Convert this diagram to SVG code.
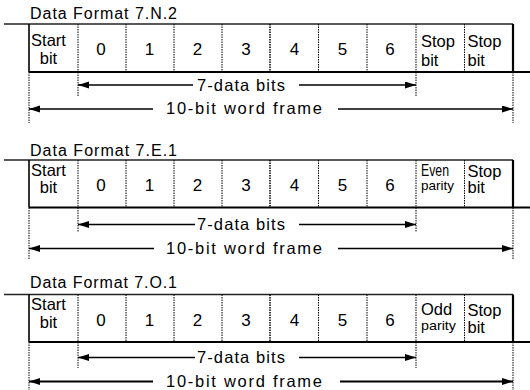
<svg xmlns="http://www.w3.org/2000/svg" width="530" height="390" viewBox="0 0 530 390">
<defs>
<marker id="ah" markerUnits="userSpaceOnUse" markerWidth="12" markerHeight="8" refX="11" refY="3.5" orient="auto">
<path d="M0,0 L11,3.5 L0,7 z" fill="#000"/>
</marker>
</defs>
<style>
text{font-family:"Liberation Sans",Arial,sans-serif;fill:#000}
.title{font-size:16px}
.cell{font-size:16.5px}
.dig{font-size:17px;text-anchor:middle}
.mid{text-anchor:middle}
.small{font-size:13px}
.lbl{font-size:16.5px}
.top{stroke:#222;stroke-width:1.5;fill:none}
.bot{stroke:#000;stroke-width:2.2;fill:none}
.side{stroke:#000;stroke-width:1.6;fill:none}
.rside{stroke:#000;stroke-width:2.2;fill:none}
.dot{stroke:#000;stroke-width:1;stroke-dasharray:1.5 1;fill:none}
.arr{stroke:#000;stroke-width:1.3;fill:none;marker-end:url(#ah)}
.arr2{stroke:#000;stroke-width:2;fill:none;marker-end:url(#ah)}
</style>

<!-- Section 1 -->
<g id="format-7N2">
<text class="title" x="30" y="19" textLength="147" lengthAdjust="spacing">Data Format 7.N.2</text>
<path class="top" d="M4,24 H513"/>
<path class="bot" d="M29,72 H530"/>
<path class="side" d="M29,24 V72"/>
<path class="rside" d="M513,24 V72"/>
<g class="dividers">
<path class="dot" d="M78,24V72M126,24V72M174,24V72M222,24V72M318.5,24V72M367,24V72M416,24V72M464.5,24V72"/>
<path class="dot" style="stroke-width:1.5" d="M270,24V72"/>
<path class="dot" d="M29,72V123M78,72V97M416,72V97M513,72V123"/>
</g>
<g id="n1-start"><text class="cell mid" x="48.5" y="46">Start</text><text class="cell mid" x="48.5" y="63.5">bit</text></g>
<g id="n1-b0"><text class="dig" x="101" y="55">0</text></g>
<g id="n1-b1"><text class="dig" x="149.5" y="55">1</text></g>
<g id="n1-b2"><text class="dig" x="197.5" y="55">2</text></g>
<g id="n1-b3"><text class="dig" x="246" y="55">3</text></g>
<g id="n1-b4"><text class="dig" x="294.5" y="55">4</text></g>
<g id="n1-b5"><text class="dig" x="342.5" y="55">5</text></g>
<g id="n1-b6"><text class="dig" x="390" y="55">6</text></g>
<g id="n1-stop1"><text class="cell" x="421" y="47">Stop</text><text class="cell" x="421" y="65.5">bit</text></g>
<g id="n1-stop2"><text class="cell" x="467.5" y="47">Stop</text><text class="cell" x="467.5" y="65.5">bit</text></g>
<text class="lbl" x="197" y="90.5" textLength="88" lengthAdjust="spacing">7-data bits</text>
<text class="lbl" x="166" y="114" textLength="156" lengthAdjust="spacing">10-bit word frame</text>
</g>

<!-- Section 2 -->
<g id="format-7E1">
<text class="title" x="30" y="155.5" textLength="147" lengthAdjust="spacing">Data Format 7.E.1</text>
<path class="top" d="M4,160 H513"/>
<path class="bot" d="M29,207.5 H530"/>
<path class="side" d="M29,160 V207.5"/>
<path class="rside" d="M513,160 V207.5"/>
<g class="dividers">
<path class="dot" d="M78,160V207.5M126,160V207.5M174,160V207.5M222,160V207.5M318.5,160V207.5M367,160V207.5M416,160V207.5M464.5,160V207.5"/>
<path class="dot" style="stroke-width:1.5" d="M270,160V207.5"/>
<path class="dot" d="M29,207.5V259M78,207.5V232M416,207.5V232M513,207.5V259"/>
</g>
<g id="n2-start"><text class="cell mid" x="48.5" y="175.5">Start</text><text class="cell mid" x="48.5" y="193">bit</text></g>
<g id="n2-b0"><text class="dig" x="101" y="191">0</text></g>
<g id="n2-b1"><text class="dig" x="149.5" y="191">1</text></g>
<g id="n2-b2"><text class="dig" x="197.5" y="191">2</text></g>
<g id="n2-b3"><text class="dig" x="246" y="191">3</text></g>
<g id="n2-b4"><text class="dig" x="294.5" y="191">4</text></g>
<g id="n2-b5"><text class="dig" x="342.5" y="191">5</text></g>
<g id="n2-b6"><text class="dig" x="390" y="191">6</text></g>
<g id="n2-parity"><text class="cell" x="421" y="176" textLength="28" lengthAdjust="spacingAndGlyphs">Even</text><text class="small" x="421" y="190" textLength="33" lengthAdjust="spacingAndGlyphs">parity</text></g>
<g id="n2-stop"><text class="cell" x="467.5" y="176.5">Stop</text><text class="cell" x="467.5" y="193">bit</text></g>
<text class="lbl" x="197" y="230" textLength="88" lengthAdjust="spacing">7-data bits</text>
<text class="lbl" x="166" y="253.5" textLength="156" lengthAdjust="spacing">10-bit word frame</text>
</g>

<!-- Section 3 -->
<g id="format-7O1">
<text class="title" x="30" y="288" textLength="147" lengthAdjust="spacing">Data Format 7.O.1</text>
<path class="top" d="M4,294.5 H513"/>
<path class="bot" d="M29,342 H530"/>
<path class="side" d="M29,294.5 V342"/>
<path class="rside" d="M513,294.5 V342"/>
<g class="dividers">
<path class="dot" d="M78,294.5V342M126,294.5V342M174,294.5V342M222,294.5V342M318.5,294.5V342M367,294.5V342M416,294.5V342M464.5,294.5V342"/>
<path class="dot" style="stroke-width:1.5" d="M270,294.5V342"/>
<path class="dot" d="M29,342V390M78,342V368M416,342V368M513,342V390"/>
</g>
<g id="n3-start"><text class="cell mid" x="48.5" y="310">Start</text><text class="cell mid" x="48.5" y="327.5">bit</text></g>
<g id="n3-b0"><text class="dig" x="101" y="325.5">0</text></g>
<g id="n3-b1"><text class="dig" x="149.5" y="325.5">1</text></g>
<g id="n3-b2"><text class="dig" x="197.5" y="325.5">2</text></g>
<g id="n3-b3"><text class="dig" x="246" y="325.5">3</text></g>
<g id="n3-b4"><text class="dig" x="294.5" y="325.5">4</text></g>
<g id="n3-b5"><text class="dig" x="342.5" y="325.5">5</text></g>
<g id="n3-b6"><text class="dig" x="390" y="325.5">6</text></g>
<g id="n3-parity"><text class="cell" x="421" y="315">Odd</text><text class="small" x="421" y="330" textLength="35" lengthAdjust="spacingAndGlyphs">parity</text></g>
<g id="n3-stop"><text class="cell" x="467.5" y="315.5">Stop</text><text class="cell" x="467.5" y="333">bit</text></g>
<text class="lbl" x="197" y="363" textLength="88" lengthAdjust="spacing">7-data bits</text>
<text class="lbl" x="166" y="386.5" textLength="156" lengthAdjust="spacing">10-bit word frame</text>
</g>

<g id="connectors">
<path class="arr" d="M193,85 H78"/>
<path class="arr" d="M299,85 H416"/>
<path class="arr" d="M153,109 H29"/>
<path class="arr" d="M338,109 H513"/>
<path class="arr" d="M195,224.5 H78"/>
<path class="arr" d="M299,224.5 H416"/>
<path class="arr" d="M154,248.5 H29"/>
<path class="arr" d="M338,248.5 H513"/>
<path class="arr" d="M195,357.5 H78"/>
<path class="arr" d="M299,357.5 H416"/>
<path class="arr2" d="M153,381.5 H29"/>
<path class="arr2" d="M340,381.5 H513"/>
</g>
</svg>
